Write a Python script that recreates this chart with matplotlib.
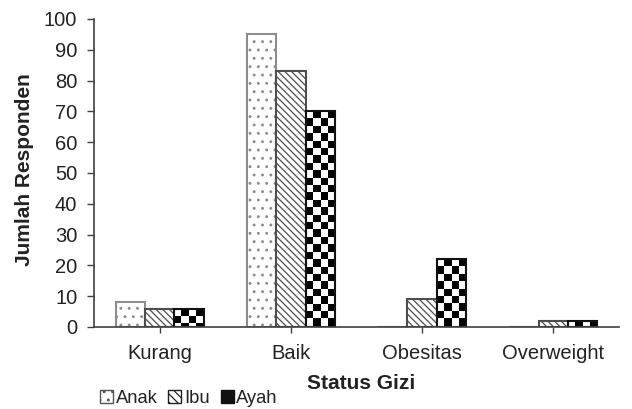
import numpy as np
import matplotlib
matplotlib.use('Agg')
import matplotlib.pyplot as plt
from matplotlib.patches import Patch

categories = ['Kurang', 'Baik', 'Obesitas', 'Overweight']
anak = [8, 95, 0, 0]
ibu = [6, 83, 9, 2]
ayah = [6, 70, 22, 2]
series_names = ['Anak', 'Ibu', 'Ayah']
yticks = list(range(0, 101, 10))

plt.rcParams['font.family'] = ['Liberation Sans', 'DejaVu Sans']
plt.rcParams['hatch.linewidth'] = 0.9

fig = plt.figure(figsize=(6.32, 4.09), dpi=100)
ax = fig.add_axes([94/632, 1-327/409, 525/632, 308/409])

x = np.arange(len(categories))
w = 0.224
b1 = ax.bar(x - w, anak, w, facecolor='white', edgecolor='#8c8c8c', hatch='..', linewidth=1.5, zorder=2)
b2 = ax.bar(x, ibu, w, facecolor='white', edgecolor='#4d4d4d', hatch='\\\\\\\\\\', linewidth=1.5, zorder=2)
b3 = ax.bar(x + w, ayah, w, facecolor='none', edgecolor='#111111', linewidth=1.5, zorder=2)

cell_y = 2.4
for rect in b3:
    x0, y0 = rect.get_x(), rect.get_y()
    bw, bh = rect.get_width(), rect.get_height()
    if bh <= 0:
        continue
    nrows = int(np.ceil(bh / cell_y))
    arr = (np.add.outer(np.arange(nrows), np.arange(4)) % 2).astype(float)
    top = y0 + bh
    im = ax.imshow(arr, cmap='gray_r', vmin=0, vmax=1,
                   extent=(x0, x0 + bw, top - nrows * cell_y, top),
                   origin='upper', interpolation='nearest', zorder=1.5, aspect='auto')
    im.set_clip_path(rect)

ax.set_xlim(-0.5, len(categories) - 0.5)
ax.set_ylim(0, 100)
ax.set_aspect('auto')
ax.set_xticks(x)
ax.set_xticklabels(categories)
ax.set_yticks(yticks)

for s in ['top', 'right']:
    ax.spines[s].set_visible(False)
for s in ['left', 'bottom']:
    ax.spines[s].set_color('#404040')
    ax.spines[s].set_linewidth(1.2)
    ax.spines[s].set_zorder(3)

ax.tick_params(axis='x', direction='out', length=4.5, width=1, color='#404040',
               labelsize=14.5, labelcolor='#222222', pad=8)
ax.tick_params(axis='y', direction='out', length=5, width=1, color='#404040',
               labelsize=14.5, labelcolor='#222222', pad=7)

ax.set_ylabel('Jumlah Responden', fontsize=15, fontweight='bold', color='#222222')
ax.yaxis.set_label_coords(-0.115, 0.51)
ax.set_xlabel('Status Gizi', fontsize=15, fontweight='bold', color='#222222', va='top')
ax.xaxis.set_label_coords(0.508, -0.153)

handles = [
    Patch(facecolor='white', edgecolor='#555555', hatch='..', linewidth=1),
    Patch(facecolor='white', edgecolor='#222222', hatch='\\\\\\\\', linewidth=1),
    Patch(facecolor='#111111', edgecolor='#111111', linewidth=1),
]
fig.legend(handles, series_names, loc='lower left', bbox_to_anchor=(100/632, 0.005),
           frameon=False, ncol=3, fontsize=13.2, handlelength=0.7, handleheight=0.7,
           handletextpad=0.15, columnspacing=0.6, borderpad=0, borderaxespad=0,
           labelcolor='#222222')

fig.savefig('out.png', dpi=100)
